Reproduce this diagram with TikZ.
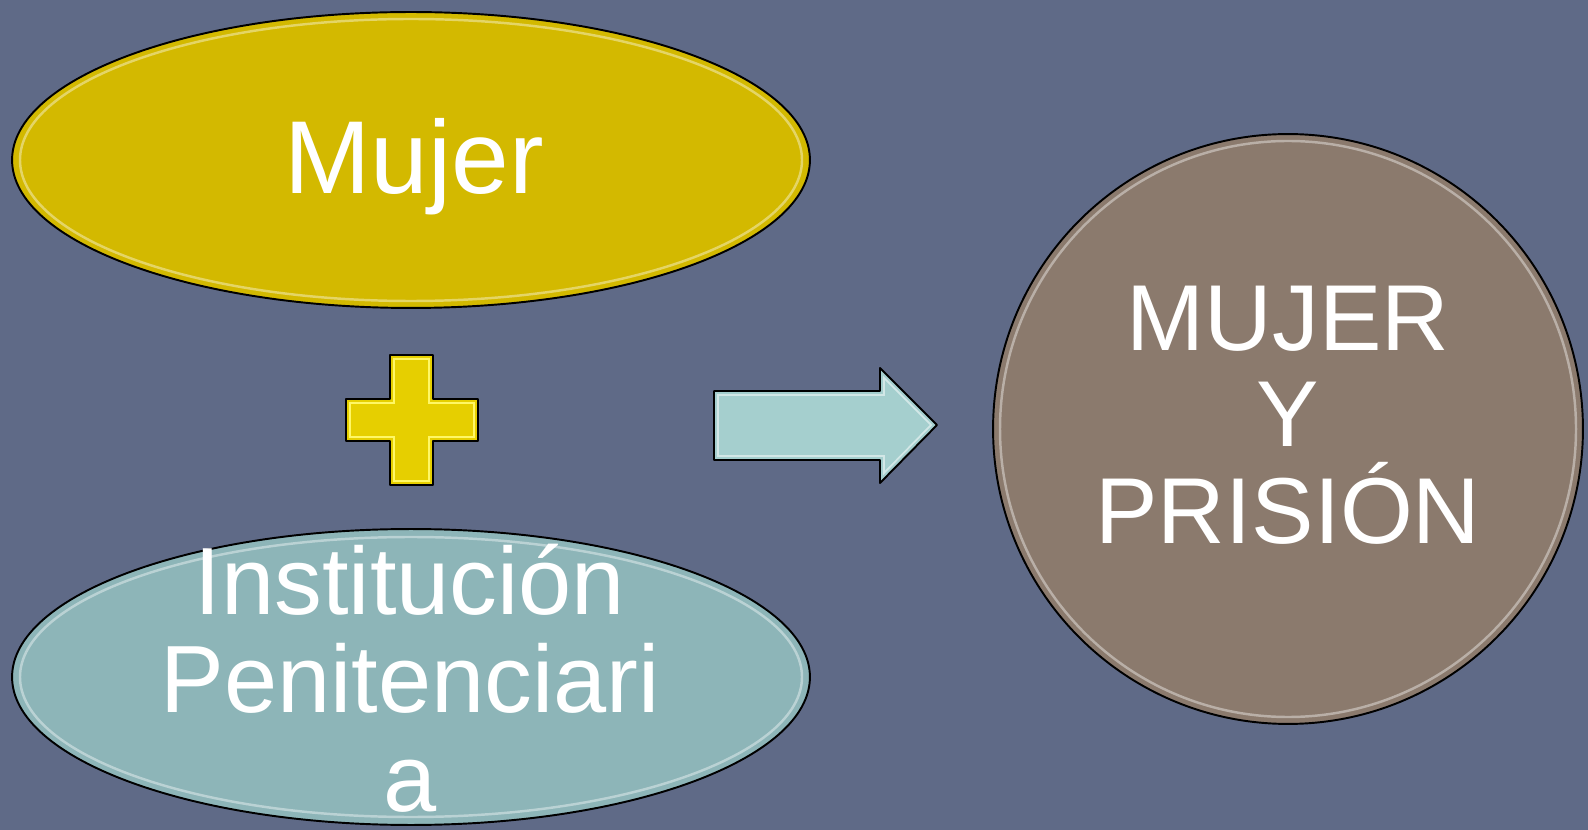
\documentclass[tikz,border=0pt]{standalone}
\usepackage{fontspec}
\setmainfont{Liberation Sans}
\usetikzlibrary{shapes.geometric}

\definecolor{fondo}{HTML}{5F6A87}
\definecolor{amarillo}{HTML}{D3B900}
\definecolor{verdeagua}{HTML}{8DB5B8}
\definecolor{pardo}{HTML}{8B7A6D}
\definecolor{oro}{HTML}{E6CF00}
\definecolor{celeste}{HTML}{A5CFCE}

\tikzset{
    pill/.style={ellipse, draw=black, line width=1.1pt, minimum width=15.96cm, minimum height=5.92cm, inner sep=0pt},
    disco/.style={circle, draw=black, line width=1.1pt, minimum size=11.8cm, inner sep=0pt},
    brillo/.style={white, opacity=0.4, line width=1.4pt},
    rotulo/.style={text=white, align=center, inner sep=0pt},
}

\begin{document}
\begin{tikzpicture}[x=0.02cm, y=-0.02cm]
        % Background
        \fill[fondo] (0,0) rectangle (1588,830);
        \useasboundingbox (0,0) rectangle (1588,830);

        % Nodes
        \node[pill, fill=amarillo] (mujer) at (411,160) {};
        \node[pill, fill=verdeagua] (institucion) at (411,677) {};
        \node[disco, fill=pardo] (prision) at (1288,429) {};

        % Highlights
        \draw[brillo] (mujer.center) ellipse [x radius=391, y radius=141];
        \draw[brillo] (institucion.center) ellipse [x radius=391, y radius=140];
        \draw[brillo] (prision.center) circle [radius=288];

        % Plus
        \draw[fill=oro, line width=1.1pt, line join=round]
            (390,355) -- (433,355) -- (433,399) -- (478,399) -- (478,441) -- (433,441)
            -- (433,485) -- (390,485) -- (390,441) -- (346,441) -- (346,399) -- (390,399) -- cycle;
        \draw[yellow!60!white, line width=1pt]
            (394,359) -- (429,359) -- (429,403) -- (474,403) -- (474,437) -- (429,437)
            -- (429,481) -- (394,481) -- (394,437) -- (350,437) -- (350,403) -- (394,403) -- cycle;

        % Arrow
        \draw[fill=celeste, line width=1.1pt, line join=round]
            (714,391) -- (880,391) -- (880,368) -- (937,425) -- (880,483) -- (880,460) -- (714,460) -- cycle;
        \draw[white, opacity=0.5, line width=1pt]
            (718,395) -- (884,395) -- (884,378) -- (931,425) -- (884,473) -- (884,456) -- (718,456) -- cycle;

        % Labels
        \node[rotulo, font=\fontsize{59}{66}\selectfont, anchor=base] (mujertxt) at (414,194) {Mujer};
        \node[rotulo, font=\fontsize{54.4}{56}\selectfont] (institxt) at (410,678) {Institución\\Penitenciari\\a};
        \node[rotulo, font=\fontsize{53.3}{55}\selectfont] (prisiontxt) at (1288,415) {MUJER\\Y\\PRISIÓN};
\end{tikzpicture}
\end{document}
